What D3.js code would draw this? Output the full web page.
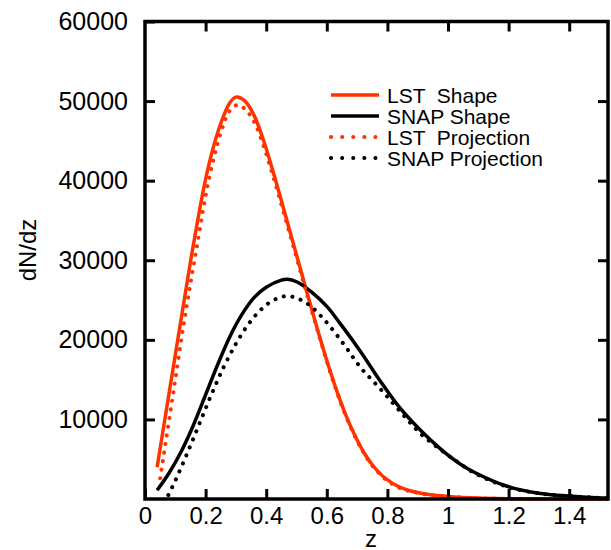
<!DOCTYPE html>
<html>
<head>
<meta charset="utf-8">
<script src="https://cdn.jsdelivr.net/npm/d3@7"></script>
<style>
  body { margin: 0; background: #fff; }
  text { font-family: "Liberation Sans", Arial, sans-serif; fill: #000; }
</style>
</head>
<body>
<svg id="chart" width="611" height="550"></svg>
<script>
// values: [z, dN/dz]
const lstShape = [
  [0.04, 4000], [0.08, 13400], [0.12, 22800], [0.16, 32000], [0.2, 40200],
  [0.23, 44800], [0.26, 48200], [0.28, 49800], [0.3, 50500], [0.33, 50000],
  [0.36, 48200], [0.39, 45200], [0.42, 41500], [0.45, 37500], [0.48, 33400],
  [0.51, 29300], [0.54, 25200], [0.57, 21200], [0.6, 17400], [0.63, 13900],
  [0.66, 10800], [0.69, 8200], [0.72, 6000], [0.75, 4300], [0.79, 2700],
  [0.84, 1500], [0.92, 650], [1.0, 330], [1.1, 120], [1.2, 40], [1.3, 10],
  [1.4, 0], [1.528, 0]
];
const snapShape = [
  [0.04, 1100], [0.08, 3300], [0.12, 6000], [0.16, 9300], [0.2, 13100],
  [0.24, 16900], [0.28, 20400], [0.32, 23200], [0.36, 25300], [0.4, 26600],
  [0.45, 27500], [0.47, 27600], [0.5, 27300], [0.55, 26000], [0.6, 24200],
  [0.645, 22000], [0.71, 18600], [0.775, 14900], [0.84, 11500], [0.91, 8600],
  [0.975, 6300], [1.04, 4400], [1.085, 3400], [1.195, 1600], [1.305, 700],
  [1.41, 350], [1.528, 100]
];
const lstProj = [
  [0.05, 2600], [0.09, 12500], [0.13, 22500], [0.17, 31500], [0.21, 40000],
  [0.25, 46000], [0.28, 48800], [0.305, 49500], [0.33, 49000], [0.36, 47400],
  [0.39, 44500], [0.42, 40900], [0.45, 37000], [0.48, 33000], [0.51, 29000],
  [0.54, 25000], [0.57, 21100], [0.6, 17300], [0.63, 13800], [0.66, 10700],
  [0.69, 8100], [0.72, 5900], [0.75, 4200], [0.79, 2600], [0.84, 1400],
  [0.92, 620], [1.0, 310], [1.1, 100], [1.2, 30], [1.3, 5], [1.4, 0],
  [1.528, 0]
];
const snapProj = [
  [0.077, 500], [0.1, 2300], [0.14, 5800], [0.18, 9500], [0.22, 13200],
  [0.26, 16600], [0.3, 19500], [0.34, 21900], [0.38, 23700], [0.42, 24900],
  [0.47, 25500], [0.53, 24700], [0.59, 22600], [0.655, 19500], [0.71, 16600],
  [0.775, 13900], [0.84, 11100], [0.91, 8200], [1.0, 5500], [1.03, 4700],
  [1.085, 3300], [1.195, 1550], [1.305, 680], [1.41, 340], [1.528, 100]
];

const xTicks = [0, 0.2, 0.4, 0.6, 0.8, 1, 1.2, 1.4];
const yTicks = [10000, 20000, 30000, 40000, 50000, 60000];
const legendLabels = ["LST  Shape", "SNAP Shape", "LST  Projection", "SNAP Projection"];

const red = "#ff3300";
const series = [
  {data: lstShape, color: red, dotted: false},
  {data: snapShape, color: "#000", dotted: false},
  {data: lstProj, color: red, dotted: true},
  {data: snapProj, color: "#000", dotted: true}
];

const svg = d3.select("#chart");
const plotL = 145, plotR = 608, plotT = 21.5, plotB = 499;

const x = d3.scaleLinear().domain([0, 1.528]).range([plotL, plotR]);
const y = d3.scaleLinear().domain([0, 60000]).range([plotB, plotT]);

const line = d3.line()
  .x(d => x(d[0]))
  .y(d => y(d[1]))
  .curve(d3.curveCatmullRom.alpha(0.5));

// curves
series.forEach(s => {
  svg.append("path")
    .datum(s.data)
    .attr("fill", "none")
    .attr("stroke", s.color)
    .attr("stroke-width", s.dotted ? 4 : 3.5)
    .attr("stroke-linecap", s.dotted ? "round" : "butt")
    .attr("stroke-dasharray", s.dotted ? "0.1,8.6" : null)
    .attr("d", line);
});

// frame with inward ticks on all four sides
const axisStyle = g => {
  g.select(".domain").remove();
  g.selectAll(".tick line").attr("stroke", "#000").attr("stroke-width", 3);
};

svg.append("g")
  .attr("transform", `translate(0,${plotB})`)
  .call(d3.axisBottom(x).tickValues(xTicks).tickSize(-10).tickPadding(8).tickFormat(d3.format("")))
  .call(axisStyle)
  .call(g => g.selectAll(".tick text").attr("font-size", 24).attr("dy", "0.72em"));

svg.append("g")
  .attr("transform", `translate(0,${plotT})`)
  .call(d3.axisTop(x).tickValues(xTicks.slice(1)).tickSize(-10).tickFormat(""))
  .call(axisStyle);

svg.append("g")
  .attr("transform", `translate(${plotL},0)`)
  .call(d3.axisLeft(y).tickValues(yTicks).tickSize(-10).tickPadding(17).tickFormat(d3.format("d")))
  .call(axisStyle)
  .call(g => g.selectAll(".tick text").attr("font-size", 25));

svg.append("g")
  .attr("transform", `translate(${plotR},0)`)
  .call(d3.axisRight(y).tickValues(yTicks.slice(0, -1)).tickSize(-10).tickFormat(""))
  .call(axisStyle);

svg.append("rect")
  .attr("x", plotL).attr("y", plotT)
  .attr("width", plotR - plotL).attr("height", plotB - plotT)
  .attr("fill", "none").attr("stroke", "#000").attr("stroke-width", 3.5);

// axis titles
svg.append("text")
  .attr("x", 371).attr("y", 547)
  .attr("text-anchor", "middle").attr("font-size", 24)
  .text("z");

svg.append("text")
  .attr("transform", "translate(36,250) rotate(-90)")
  .attr("text-anchor", "middle").attr("font-size", 24)
  .text("dN/dz");

// legend
const legend = svg.append("g");
const rowY = [95, 116, 137, 158];
series.forEach((s, i) => {
  legend.append("line")
    .attr("x1", 331).attr("x2", 379)
    .attr("y1", rowY[i]).attr("y2", rowY[i])
    .attr("stroke", s.color)
    .attr("stroke-width", s.dotted ? 4 : 3.5)
    .attr("stroke-linecap", s.dotted ? "round" : "butt")
    .attr("stroke-dasharray", s.dotted ? "0.1,11" : null);
  legend.append("text")
    .attr("x", 387).attr("y", rowY[i]).attr("dy", "0.36em")
    .attr("font-size", 21)
    .style("white-space", "pre")
    .text(legendLabels[i]);
});
</script>
</body>
</html>
